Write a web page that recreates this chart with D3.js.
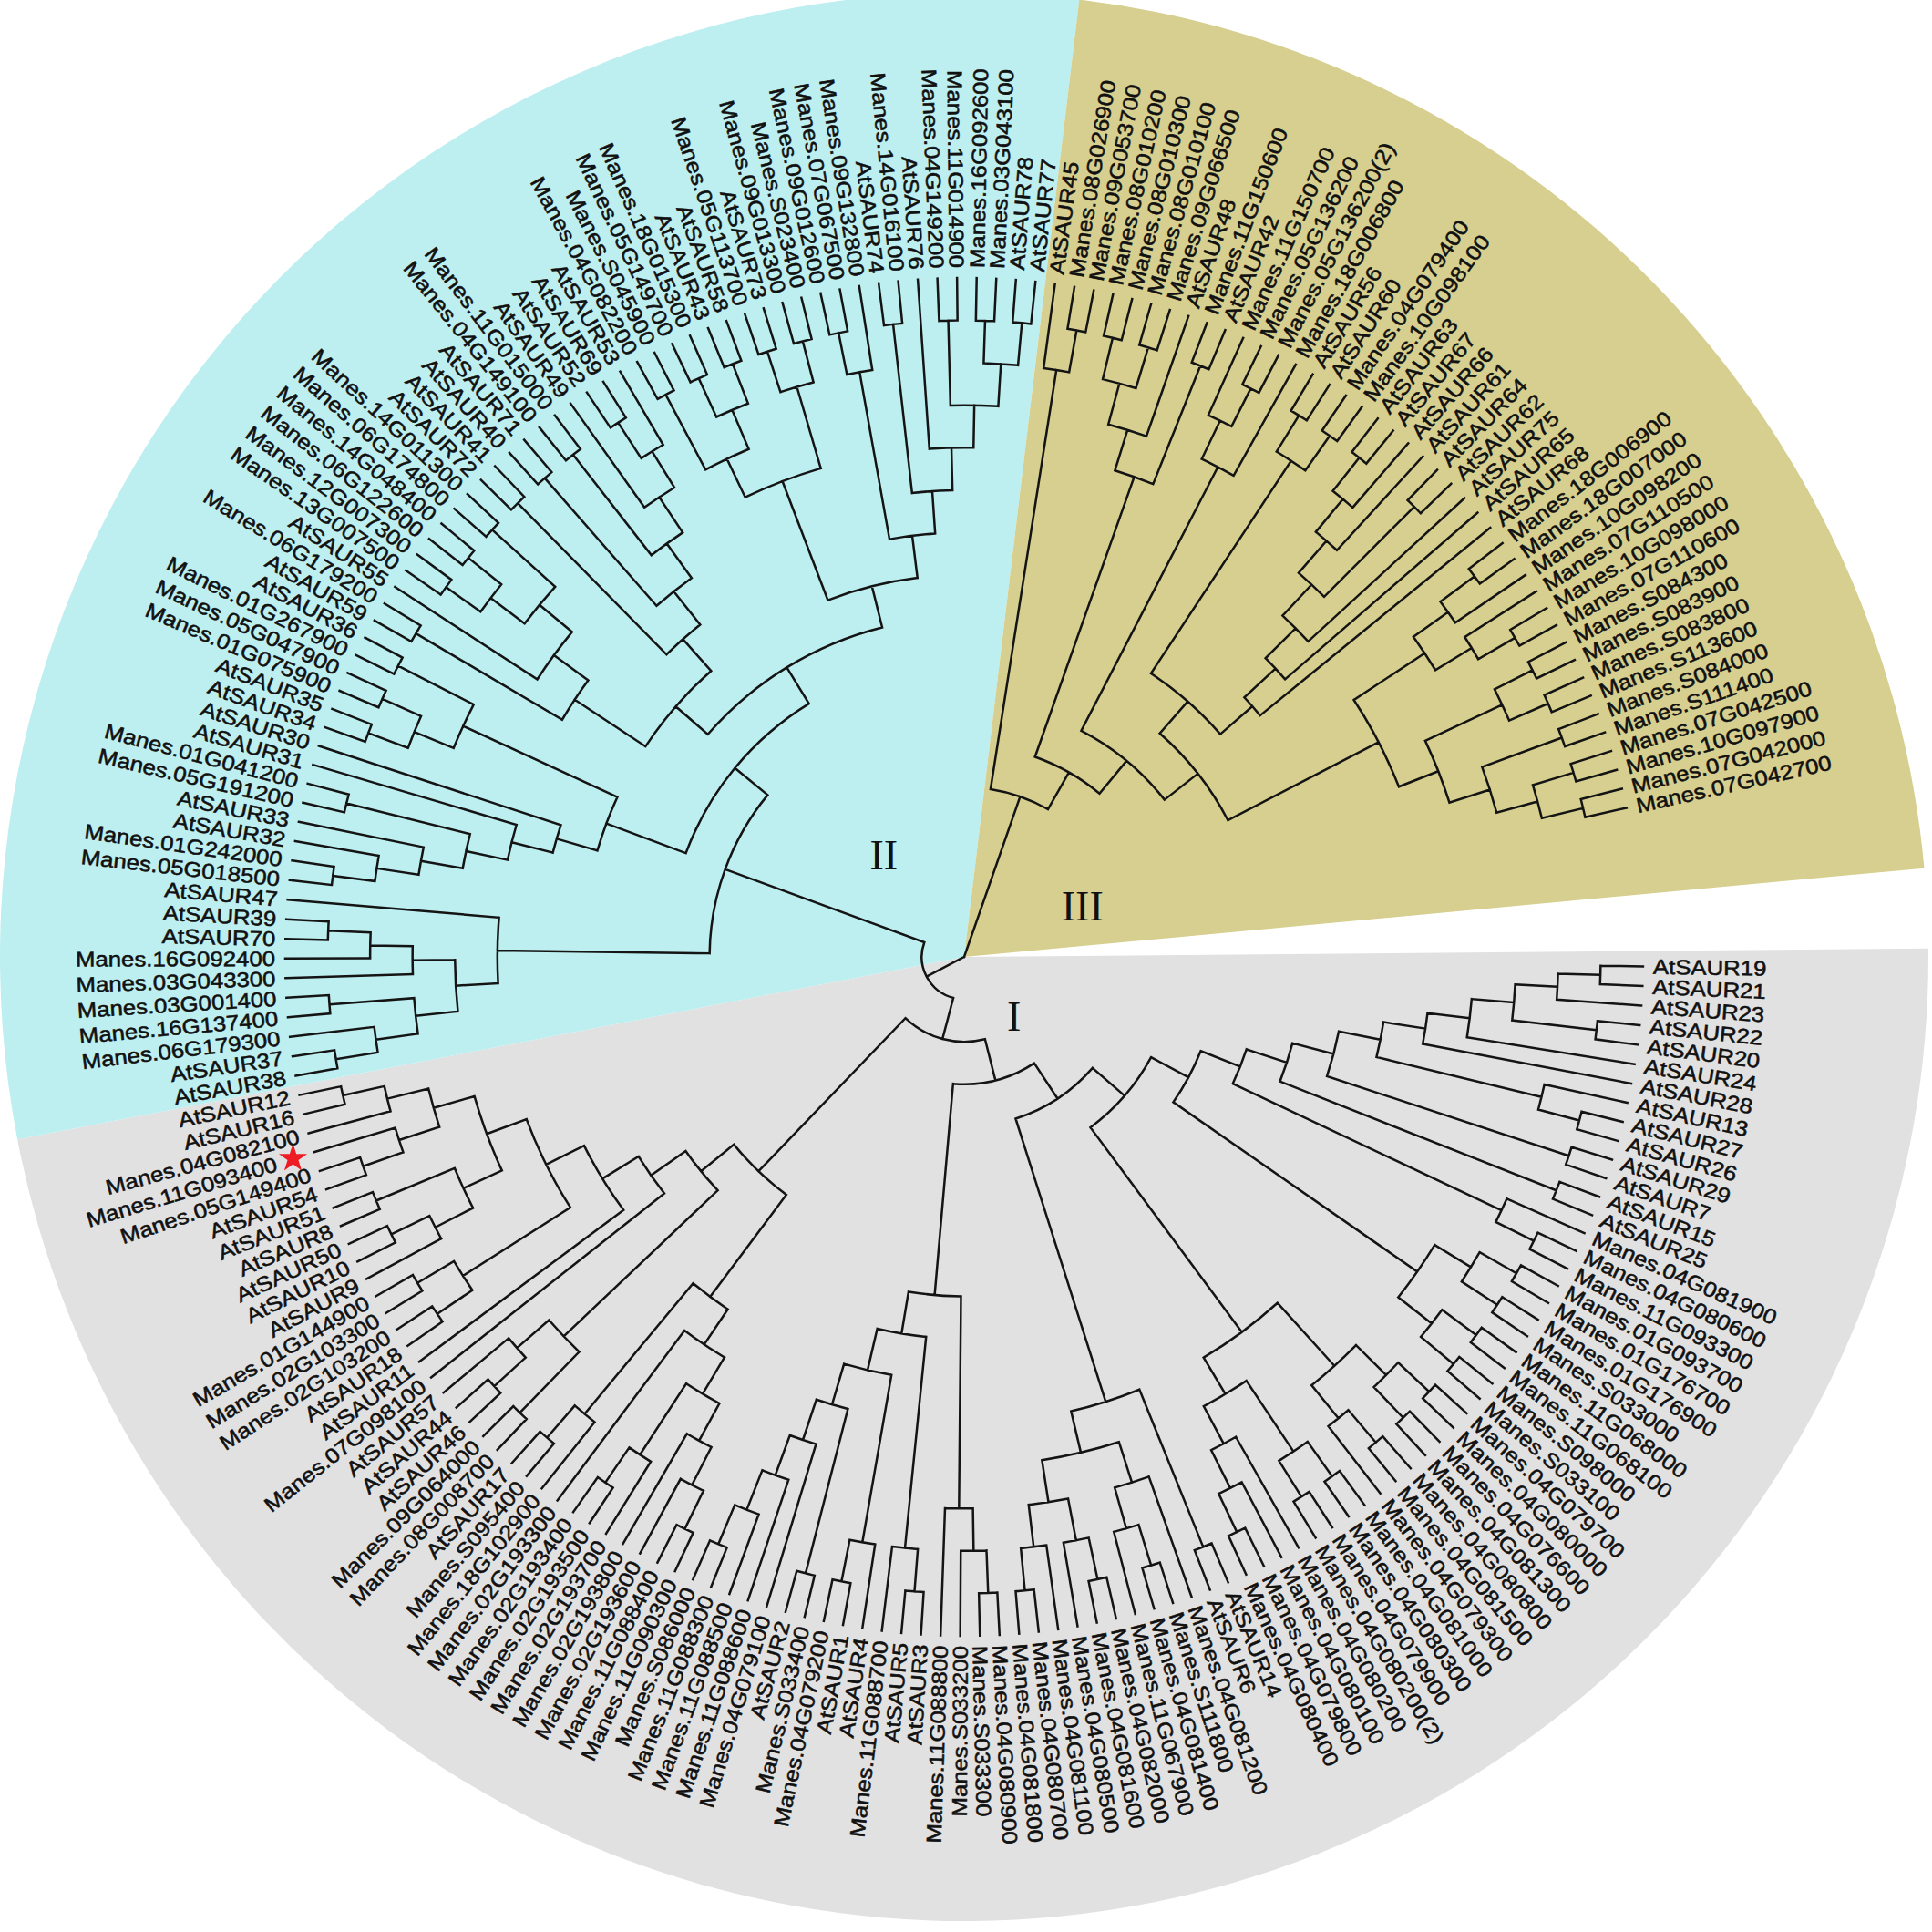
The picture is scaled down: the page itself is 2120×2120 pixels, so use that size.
<!DOCTYPE html>
<html><head><meta charset="utf-8">
<script src="https://cdn.jsdelivr.net/npm/d3@7"></script>
<style>html,body{margin:0;padding:0;background:#fff}</style>
</head><body>
<svg id="chart" width="2120" height="2120" xmlns="http://www.w3.org/2000/svg"></svg>
<script>
// ================= DATA (Newick sub-trees, leaves in clockwise order) =================
// "~2" stands for the "(2)" suffix of duplicated gene names.
// ---- Clade I ----
const T1   = "((((((((AtSAUR19,AtSAUR21),AtSAUR23),(AtSAUR22,AtSAUR20)),AtSAUR24),AtSAUR28),(AtSAUR13,(AtSAUR27,AtSAUR26))),(AtSAUR29,AtSAUR7)),(AtSAUR15,AtSAUR25))";
const T2a  = "(Manes.04G081900,(Manes.04G080600,Manes.11G093300))";
const T2b  = "(((Manes.01G093700,Manes.01G176700),(Manes.01G176900,Manes.S033000)),((Manes.11G068000,Manes.11G068100),(Manes.S098000,Manes.S033100)))";
const T3a  = "(((Manes.04G079700,Manes.04G080000),(Manes.04G076600,Manes.04G081300)),((Manes.04G080800,Manes.04G081500),Manes.04G079300))";
const T3b  = "(((Manes.04G081000,Manes.04G080300),(Manes.04G079900,Manes.04G080200~2)),(Manes.04G080200,(Manes.04G080100,(Manes.04G079800,Manes.04G080400))))";
const B04  = "((Manes.04G081200,((Manes.S111800,Manes.04G081400),Manes.11G067900)),(((Manes.04G082000,Manes.04G081600),Manes.04G080500),(Manes.04G081100,(Manes.04G080700,Manes.04G081800))))";
const Ib1R = "(((Manes.04G080900,Manes.S033300),Manes.S033200),Manes.11G088800)";
const Qb   = "((AtSAUR3,AtSAUR5),Manes.11G088700)";
const L1   = "((AtSAUR4,(AtSAUR1,Manes.04G079200)),((Manes.S033400,AtSAUR2),(Manes.04G079100,(Manes.11G088600,(Manes.11G088500,(Manes.11G088300,Manes.S086000))))))";
const IaR  = "((((((Manes.11G090300,Manes.11G088400),Manes.02G193600),Manes.02G193800),(Manes.02G193700,(Manes.02G193500,Manes.02G193400))),Manes.02G193300),(Manes.18G102900,(Manes.S095400,AtSAUR17)))";
const IaQ  = "((Manes.08G008700,Manes.09G064000),((AtSAUR46,AtSAUR44),AtSAUR57))";
const IaG4 = "((AtSAUR18,Manes.02G103200),(Manes.02G103300,Manes.01G144900))";
const IaG3 = "((AtSAUR9,(AtSAUR10,AtSAUR50)),(AtSAUR8,AtSAUR51))";
const IaG2 = "((AtSAUR54,Manes.05G149400),Manes.11G093400)";
const IaG1 = "(Manes.04G082100,(AtSAUR16,AtSAUR12))";
// ---- Clade II ----
const Gb   = "(((((AtSAUR38,AtSAUR37),Manes.06G179300),(Manes.16G137400,Manes.03G001400)),(Manes.03G043300,(Manes.16G092400,(AtSAUR70,AtSAUR39)))),AtSAUR47)";
const G2   = "((((((Manes.05G018500,Manes.01G242000),AtSAUR32),AtSAUR33),(Manes.05G191200,Manes.01G041200)),AtSAUR31),AtSAUR30)";
const G3   = "(((AtSAUR34,AtSAUR35),(Manes.01G075900,Manes.05G047900)),(Manes.01G267900,AtSAUR36))";
const G4   = "((AtSAUR59,Manes.06G179200),(AtSAUR55,(((Manes.13G007500,Manes.12G007300),(Manes.06G122600,Manes.14G048400)),(Manes.06G174800,Manes.14G011300))))";
const G5   = "((AtSAUR72,AtSAUR41),((AtSAUR40,AtSAUR71),((Manes.04G149100,Manes.11G015000),(AtSAUR49,((AtSAUR52,AtSAUR69),AtSAUR53)))))";
const G6a  = "(((Manes.04G082200,Manes.S045900),((Manes.05G149700,Manes.18G015300),(AtSAUR43,AtSAUR58))),((Manes.05G113700,AtSAUR73),(Manes.09G013300,Manes.S023400)))";
const G6b  = "(((Manes.09G012600,Manes.07G067500),Manes.09G132800),((AtSAUR74,Manes.14G016100),(AtSAUR76,((Manes.04G149200,Manes.11G014900),((Manes.16G092600,Manes.03G043100),(AtSAUR78,AtSAUR77))))))";
// ---- Clade III ----
const A3   = "(AtSAUR45,(Manes.08G026900,Manes.09G053700))";
const L3   = "((((Manes.08G010200,Manes.08G010300),(Manes.08G010100,Manes.09G066500)),AtSAUR48),(Manes.11G150600,AtSAUR42))";
const Q31  = "((Manes.11G150700,(Manes.05G136200,Manes.05G136200~2)),Manes.18G006800)";
const Q32  = "((AtSAUR56,AtSAUR60),(Manes.04G079400,Manes.10G098100))";
const M3   = "(((((((AtSAUR63,AtSAUR67),AtSAUR66),AtSAUR61),(AtSAUR64,AtSAUR62)),AtSAUR75),AtSAUR65),AtSAUR68)";
const R31  = "(((Manes.18G006900,Manes.18G007000),Manes.10G098200),(Manes.07G110500,(Manes.10G098000,Manes.07G110600)))";
const R32  = "(((Manes.S084300,Manes.S083900),(Manes.S083800,Manes.S113600)),((Manes.S084000,Manes.S111400),((Manes.07G042500,Manes.10G097900),(Manes.07G042000,Manes.07G042700))))";

const cladeNames  = ["I", "II", "III"];
const cladeColors = ["#e1e1e1", "#bdeef0", "#d6cf8f"];
const markedGenes = ["Manes.11G093400"];

// ---- assemble ----
const IaP = `(Manes.07G098100,(AtSAUR11,(${IaG4},(${IaG3},(${IaG2},${IaG1})))))`;
const cladeI = `((((((${T1},${T2a}),${T2b}),(${T3a},${T3b})),((AtSAUR14,AtSAUR6),${B04})),(${Ib1R},(${Qb},${L1}))),(${IaR},(${IaQ},${IaP})))`;
const cladeII = `(${Gb},((${G2},${G3}),((${G4},${G5}),(${G6a},${G6b}))))`;
const cladeIII = `(${A3},(${L3},(${Q31},((${Q32},${M3}),(${R31},${R32})))))`;
const treeNewick = `((${cladeI},${cladeII}),${cladeIII})`;

function parseNewick(s) {
  let i = 0;
  function node() {
    if (s[i] === "(") {
      i++;
      const children = [];
      while (i < s.length) {
        children.push(node());
        if (s[i] === ",") { i++; continue; }
        if (s[i] === ")") { i++; break; }
        break;
      }
      return { children };
    }
    const j = i;
    while (i < s.length && !"(),".includes(s[i])) i++;
    return { name: s.slice(j, i).trim() };
  }
  return node();
}

// ================= LAYOUT =================
const cx = 1058, cy = 1050;
const R_LEAF = 745, R_LABEL = 756, R_BG = 1058;
const START = 0.8, STEP = 1.658;        // degrees

const root = d3.hierarchy(parseNewick(treeNewick), d => d.children);
const leaves = root.leaves();
const N = leaves.length;
const SPAN = N * STEP;
d3.cluster().size([SPAN, R_LEAF]).separation(() => 1)(root);

const angDeg = d => START + (d.x / SPAN * N - 0.5) * STEP;
const rad = a => a * Math.PI / 180;
const pt = (a, r) => [cx + r * Math.cos(rad(a)), cy + r * Math.sin(rad(a))];

const svg = d3.select("#chart");

// ---- clade background wedges ----
const clades = [root.children[0].children[0], root.children[0].children[1], root.children[1]];
const cl = clades.map(c => { const lv = c.leaves(); return [angDeg(lv[0]), angDeg(lv[lv.length - 1])]; });
const wedgeAngles = [
  [cl[0][0] - 1.3, (cl[0][1] + cl[1][0]) / 2],
  [(cl[0][1] + cl[1][0]) / 2, (cl[1][1] + cl[2][0]) / 2],
  [(cl[1][1] + cl[2][0]) / 2, cl[2][1] + 7.4]
];
function wedge(a0, a1, r) {
  const p0 = pt(a0, r), p1 = pt(a1, r);
  const large = (a1 - a0) > 180 ? 1 : 0;
  return `M${cx},${cy}L${p0[0]},${p0[1]}A${r},${r} 0 ${large} 1 ${p1[0]},${p1[1]}Z`;
}
svg.append("g").selectAll("path").data(wedgeAngles).join("path")
  .attr("d", d => wedge(d[0], d[1], R_BG))
  .attr("fill", (d, i) => cladeColors[i]);

// ---- tree branches ----
let p = "";
root.descendants().forEach(d => {
  const a = angDeg(d);
  if (d.parent) {
    const s = pt(a, d.parent.y), e = pt(a, d.y);
    p += `M${s[0].toFixed(2)},${s[1].toFixed(2)}L${e[0].toFixed(2)},${e[1].toFixed(2)}`;
  }
  if (d.children && d.y > 0.5) {
    const a0 = angDeg(d.children[0]), a1 = angDeg(d.children[d.children.length - 1]);
    const s = pt(a0, d.y), e = pt(a1, d.y);
    const large = (a1 - a0) > 180 ? 1 : 0;
    p += `M${s[0].toFixed(2)},${s[1].toFixed(2)}A${d.y},${d.y} 0 ${large} 1 ${e[0].toFixed(2)},${e[1].toFixed(2)}`;
  }
});
svg.append("path").attr("d", p).attr("fill", "none")
  .attr("stroke", "#141414").attr("stroke-width", 2.5).attr("stroke-linecap", "square");

// ---- leaf labels ----
const labelG = svg.append("g")
  .attr("font-family", "'Liberation Sans', Arial, Helvetica, sans-serif")
  .attr("font-size", 23).attr("fill", "#111")
  .attr("stroke", "#111").attr("stroke-width", 0.55);
leaves.forEach(d => {
  const a = angDeg(d);
  const flip = a > 90 && a < 270;
  const marked = markedGenes.includes(d.data.name);
  const r = R_LABEL + (marked ? 32 : 0);
  labelG.append("text")
    .attr("transform", `translate(${cx},${cy}) rotate(${a}) translate(${r},0)${flip ? " rotate(180)" : ""} scale(1.12,1)`)
    .attr("text-anchor", flip ? "end" : "start")
    .attr("dy", "0.36em")
    .text(d.data.name.replace("~2", "(2)"));
  if (marked) {
    const sp = pt(a, R_LABEL + 13);
    svg.append("path")
      .attr("d", d3.symbol(d3.symbolStar, 300)())
      .attr("transform", `translate(${sp[0]},${sp[1]})`)
      .attr("fill", "#ee1c24");
  }
});

// ---- clade names ----
const cladeNamePos = [[50, 85], [231.6, 142], [337, 141]]; // [angle deg, radius]
svg.append("g").selectAll("text").data(cladeNames).join("text")
  .attr("x", (d, i) => pt(cladeNamePos[i][0], cladeNamePos[i][1])[0])
  .attr("y", (d, i) => pt(cladeNamePos[i][0], cladeNamePos[i][1])[1])
  .attr("text-anchor", "middle").attr("dominant-baseline", "central")
  .attr("font-family", "'Liberation Serif', 'Times New Roman', serif")
  .attr("font-size", 46).attr("fill", "#111")
  .text(d => d);

if (N !== 210) {
  svg.append("text").attr("x", 20).attr("y", 40).attr("font-size", 30).attr("fill", "red").text("leaf count " + N);
}
</script>
</body></html>
